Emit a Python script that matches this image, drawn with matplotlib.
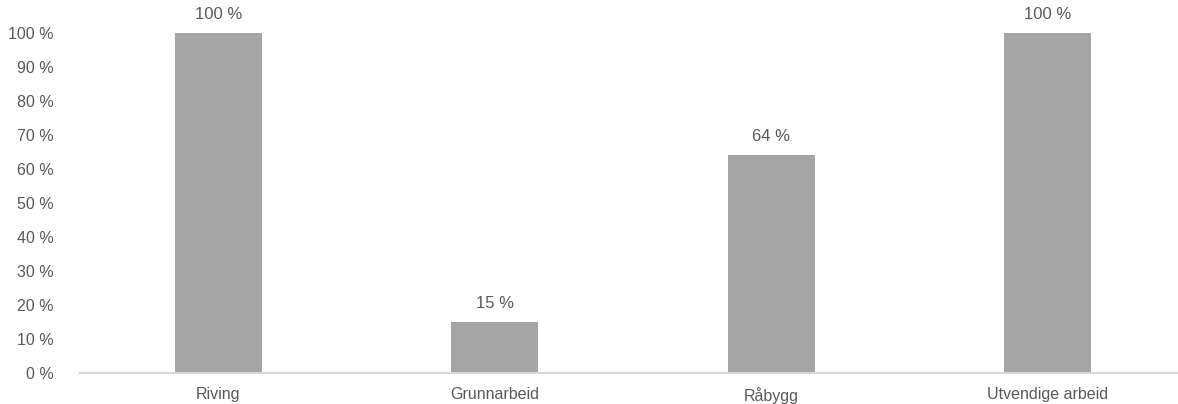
import matplotlib
matplotlib.use("Agg")
import matplotlib.pyplot as plt
from matplotlib.ticker import FuncFormatter

categories = ["Riving", "Grunnarbeid", "Råbygg", "Utvendige arbeid"]
values = [100, 15, 64, 100]
yticks = [0, 10, 20, 30, 40, 50, 60, 70, 80, 90, 100]

plt.rcParams['font.family'] = ['Liberation Sans', 'DejaVu Sans']
text_color = "#595959"

fig = plt.figure(figsize=(11.78, 4.04), dpi=100)
W, H = 1178, 404
left, right, bottom, top = 80, 1186, 373, 33
ax = fig.add_axes([left / W, (H - bottom) / H, (right - left) / W, (bottom - top) / H])

x = list(range(len(categories)))
bars = ax.bar(x, values, width=0.315, color="#a5a5a5", zorder=2)
for xi, v in zip(x, values):
    ax.annotate(f"{v} %", (xi, v), xytext=(0, 8), textcoords="offset points",
                ha="center", va="bottom", fontsize=12, color=text_color)

ax.set_xlim(-0.5, len(categories) - 0.5)
ax.set_ylim(0, 100)
ax.set_yticks(yticks)
ax.yaxis.set_major_formatter(FuncFormatter(lambda v, p: f"{int(v)} %"))
ax.set_xticks(x)
ax.set_xticklabels(categories)
ax.tick_params(axis="both", length=0, labelsize=11.5, colors=text_color)
ax.tick_params(axis="y", pad=19)
ax.tick_params(axis="x", pad=10)
for s in ["top", "right", "left"]:
    ax.spines[s].set_visible(False)
ax.spines["bottom"].set_color("#d9d9d9")
ax.spines["bottom"].set_linewidth(1.5)

fig.savefig("out.png", dpi=100)
